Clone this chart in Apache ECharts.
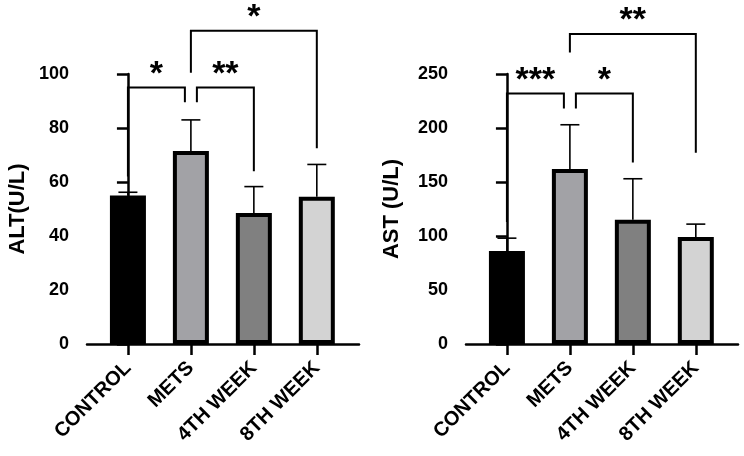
<!DOCTYPE html>
<html>
<head>
<meta charset="utf-8">
<script src="https://cdn.jsdelivr.net/npm/echarts@6/dist/echarts.min.js"></script>
<style>
  html, body { margin: 0; padding: 0; background: #fff; }
  #chart { width: 744px; height: 456px; }
</style>
</head>
<body>
<div id="chart"></div>
<script>
// groups and bar fills
var categories = ['CONTROL', 'METS', '4TH WEEK', '8TH WEEK'];
var barColors = ['#000000', '#a2a2a6', '#808080', '#d3d3d3'];

// ALT panel
var altMean = [55, 71.5, 48.5, 54.5];
var altSd = [1.2, 11.5, 9.8, 12];
var altTicks = { min: 0, max: 100, interval: 20 };
// [from, to, left leg bottom, top, right leg bottom, label]
var altBrackets = [
  [0, 1, 62, 95, 89.5, '*'],
  [1, 2, 89.5, 95, 64, '**'],
  [1, 3, 100.5, 116, 72.5, '*']
];

// AST panel
var astMean = [86, 162, 115, 99];
var astSd = [12, 41, 38, 12];
var astTicks = { min: 0, max: 250, interval: 50 };
var astBrackets = [
  [0, 1, 113, 232, 218, '***'],
  [1, 2, 218, 232, 168, '*'],
  [1, 3, 270, 287, 177, '**']
];

// pixel nudge of bracket legs that share the METS bar
var bracketNudge = [[0, -6], [6, 0], [0, 0]];

var FONT = 'Liberation Sans, Arial, sans-serif';
var chart = echarts.init(document.getElementById('chart'));

function xAxisFor(gi) {
  return {
    type: 'value', gridIndex: gi, min: -0.65, max: 3.67,
    splitLine: { show: false },
    axisLine: { show: true, lineStyle: { color: '#000', width: 2.5 } },
    axisTick: { show: true, customValues: [0, 1, 2, 3], length: 11, lineStyle: { color: '#000', width: 2.5 } },
    axisLabel: {
      customValues: [0, 1, 2, 3], rotate: 45, margin: 21,
      formatter: function (v) { return categories[Math.round(v)]; },
      color: '#000', fontFamily: FONT, fontWeight: 'bold', fontSize: 20
    }
  };
}

function yAxisFor(gi, ticks, name, gap) {
  return {
    type: 'value', gridIndex: gi, min: ticks.min, max: ticks.max, interval: ticks.interval,
    name: name, nameLocation: 'middle', nameGap: gap, nameRotate: 90,
    nameTextStyle: { color: '#000', fontFamily: FONT, fontWeight: 'bold', fontSize: 22 },
    splitLine: { show: false },
    axisLine: { show: true, lineStyle: { color: '#000', width: 2.5 } },
    axisTick: { show: true, length: 11, lineStyle: { color: '#000', width: 2.5 } },
    axisLabel: { margin: 18, color: '#000', fontFamily: FONT, fontWeight: 'bold', fontSize: 18 }
  };
}

function barSeries(gi, means) {
  return {
    type: 'bar', xAxisIndex: gi, yAxisIndex: gi, barWidth: 36,
    data: means.map(function (m, i) {
      return { value: [i, m], itemStyle: { color: barColors[i], borderColor: '#000', borderWidth: 4 } };
    }),
    z: 2
  };
}

function errorSeries(gi, means, sds) {
  return {
    type: 'custom', xAxisIndex: gi, yAxisIndex: gi, z: 3,
    data: means.map(function (m, i) { return [i, m, sds[i]]; }),
    renderItem: function (params, api) {
      var p0 = api.coord([api.value(0), api.value(1)]);
      var p1 = api.coord([api.value(0), api.value(1) + api.value(2)]);
      var st = { stroke: '#000', lineWidth: 1.6 };
      return {
        type: 'group',
        children: [
          { type: 'line', shape: { x1: p0[0], y1: p0[1], x2: p1[0], y2: p1[1] }, style: st },
          { type: 'line', shape: { x1: p1[0] - 9.5, y1: p1[1], x2: p1[0] + 9.5, y2: p1[1] }, style: st }
        ]
      };
    }
  };
}

function bracketSeries(gi, brackets) {
  return {
    type: 'custom', xAxisIndex: gi, yAxisIndex: gi, z: 4, clip: false,
    data: brackets.map(function (b) { return [b[0], b[1], b[2], b[3], b[4]]; }),
    renderItem: function (params, api) {
      var b = brackets[params.dataIndex];
      var n = bracketNudge[params.dataIndex];
      var a = api.coord([b[0], b[2]]);
      var t1 = api.coord([b[0], b[3]]);
      var t2 = api.coord([b[1], b[3]]);
      var c = api.coord([b[1], b[4]]);
      var xl = a[0] + n[0], xr = c[0] + n[1];
      return {
        type: 'group',
        children: [
          {
            type: 'polyline',
            shape: { points: [[xl, a[1]], [xl, t1[1]], [xr, t2[1]], [xr, c[1]]] },
            style: { stroke: '#000', lineWidth: 2, fill: null }
          },
          {
            type: 'text',
            style: {
              text: b[5], x: (xl + xr) / 2, y: t1[1] + 4,
              align: 'center', verticalAlign: 'bottom',
              font: 'bold 34px ' + FONT, fill: '#000'
            }
          }
        ]
      };
    }
  };
}

chart.setOption({
  backgroundColor: '#fff',
  animation: false,
  grid: [
    { left: 87, top: 74, width: 272, height: 270 },
    { left: 466, top: 74, width: 272, height: 270 }
  ],
  xAxis: [xAxisFor(0), xAxisFor(1)],
  yAxis: [yAxisFor(0, altTicks, 'ALT(U/L)', 58), yAxisFor(1, astTicks, 'AST (U/L)', 63)],
  series: [
    barSeries(0, altMean), errorSeries(0, altMean, altSd), bracketSeries(0, altBrackets),
    barSeries(1, astMean), errorSeries(1, astMean, astSd), bracketSeries(1, astBrackets)
  ]
});
</script>
</body>
</html>
